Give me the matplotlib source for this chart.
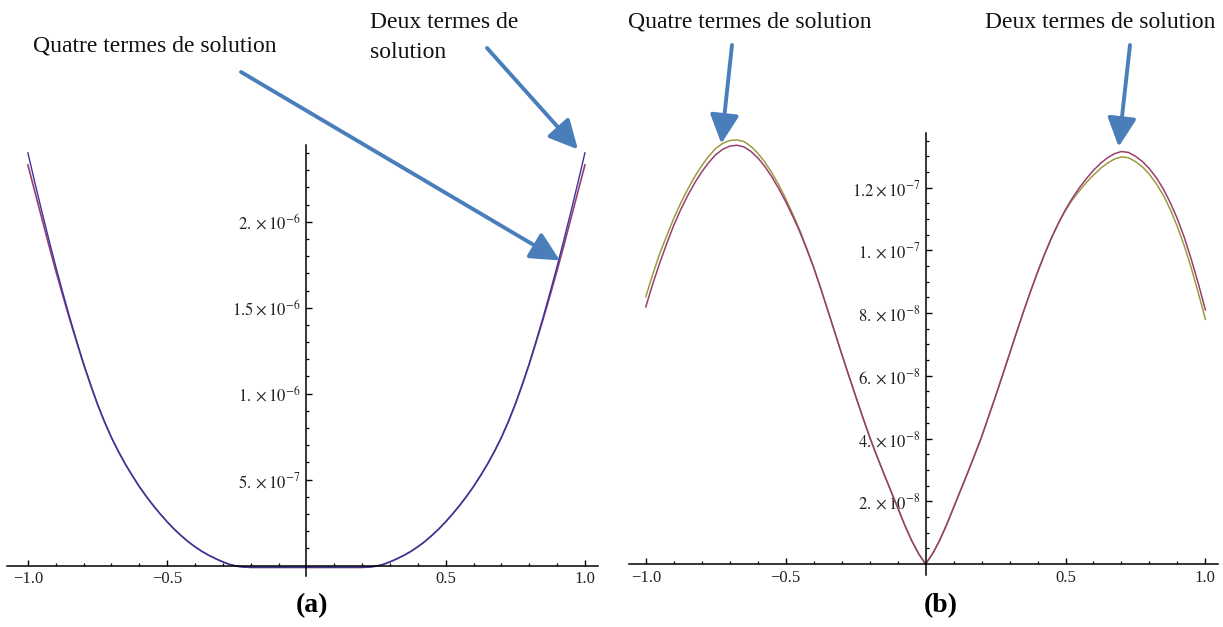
import numpy as np
import matplotlib
matplotlib.use("Agg")
import matplotlib.pyplot as plt

plt.rcParams['font.family'] = ['Liberation Serif', 'DejaVu Serif']
plt.rcParams['mathtext.fontset'] = 'stix'

# ---- panel (a): values in units of 1e-7, read at x = 0, 0.025, ..., 1 (curve is symmetric)
x_a = np.linspace(-1.0, 1.0, 81)
deux_a_right = [-0.10, -0.10, -0.10, -0.10, -0.10, -0.10, -0.10, -0.10, -0.10, -0.08,
                -0.03, 0.07, 0.22, 0.40, 0.60, 0.83, 1.10, 1.40, 1.75, 2.13,
                2.55, 3.01, 3.50, 4.03, 4.60, 5.23, 5.90, 6.64, 7.45, 8.38,
                9.40, 10.55, 11.75, 13.08, 14.45, 15.90, 17.40, 18.98, 20.60, 22.28,
                24.00]
quatre_a_right = [-0.10, -0.10, -0.10, -0.10, -0.10, -0.10, -0.10, -0.10, -0.10, -0.08,
                  -0.03, 0.07, 0.22, 0.40, 0.60, 0.83, 1.10, 1.40, 1.75, 2.13,
                  2.55, 3.01, 3.50, 4.03, 4.60, 5.23, 5.90, 6.64, 7.45, 8.36,
                  9.37, 10.50, 11.70, 13.00, 14.33, 15.72, 17.15, 18.65, 20.20, 21.75,
                  23.30]
deux_a = deux_a_right[::-1] + deux_a_right[1:]
quatre_a = quatre_a_right[::-1] + quatre_a_right[1:]

# ---- panel (b): values in units of 1e-8, read at x = -1, -0.975, ..., 1
x_b = np.linspace(-1.0, 1.0, 81)
purple_b = [8.20, 8.93, 9.60, 10.22, 10.80, 11.30, 11.75, 12.15, 12.50, 12.80,
            13.05, 13.22, 13.32, 13.35, 13.30, 13.16, 12.95, 12.68, 12.35, 11.97,
            11.55, 11.09, 10.60, 10.04, 9.45, 8.79, 8.10, 7.40, 6.70, 6.02,
            5.35, 4.69, 4.05, 3.46, 2.90, 2.35, 1.80, 1.25, 0.75, 0.33,
            0.00,
            0.33, 0.75, 1.25, 1.80, 2.35, 2.90, 3.47, 4.05, 4.70, 5.35,
            6.02, 6.70, 7.38, 8.05, 8.69, 9.30, 9.87, 10.40, 10.87, 11.30,
            11.67, 12.00, 12.29, 12.55, 12.77, 12.95, 13.08, 13.15, 13.12, 13.00,
            12.83, 12.60, 12.31, 11.95, 11.51, 11.00, 10.40, 9.70, 8.93, 8.10]
olive_b = [8.52, 9.24, 9.90, 10.47, 11.02, 11.51, 11.95, 12.35, 12.70, 13.00,
           13.25, 13.41, 13.50, 13.52, 13.47, 13.32, 13.10, 12.82, 12.48, 12.09,
           11.65, 11.16, 10.65, 10.07, 9.46, 8.79, 8.10, 7.40, 6.70, 6.02,
           5.35, 4.69, 4.05, 3.46, 2.90, 2.35, 1.80, 1.25, 0.75, 0.33,
           0.00,
           0.33, 0.75, 1.25, 1.80, 2.35, 2.90, 3.47, 4.05, 4.70, 5.35,
           6.02, 6.70, 7.38, 8.05, 8.69, 9.30, 9.87, 10.40, 10.87, 11.27,
           11.62, 11.90, 12.17, 12.40, 12.61, 12.78, 12.91, 12.98, 12.95, 12.83,
           12.66, 12.42, 12.12, 11.75, 11.29, 10.75, 10.13, 9.42, 8.63, 7.80]

xticks = [-1.0, -0.5, 0.5, 1.0]
xticklabels = ['\u22121.0', '\u22120.5', '0.5', '1.0']
yticks_a = [5e-7, 1e-6, 1.5e-6, 2e-6]
yticklabels_a = [r'$5.\times 10^{-7}$', r'$1.\times 10^{-6}$',
                 r'$1.5\times 10^{-6}$', r'$2.\times 10^{-6}$']
yticks_b = [2e-8, 4e-8, 6e-8, 8e-8, 1e-7, 1.2e-7]
yticklabels_b = [r'$2.\times 10^{-8}$', r'$4.\times 10^{-8}$', r'$6.\times 10^{-8}$',
                 r'$8.\times 10^{-8}$', r'$1.\times 10^{-7}$', r'$1.2\times 10^{-7}$']

BLUE = '#3535a0'
PURPLE = '#993d71'
OLIVE = '#9c9a40'
ARROW = '#4a7ebb'

W, H = 1223, 627
fig = plt.figure(figsize=(W / 100, H / 100), dpi=100, facecolor='white')


def px_axes(left, right, top, bottom):
    return fig.add_axes([left / W, 1 - bottom / H, (right - left) / W, (bottom - top) / H])


def style_axes(ax):
    for s in ['top', 'right']:
        ax.spines[s].set_visible(False)
    ax.spines['left'].set_position(('data', 0))
    ax.spines['bottom'].set_position(('data', 0))
    for s in ['left', 'bottom']:
        ax.spines[s].set_linewidth(1.1)
    ax.set_facecolor('none')
    ax.set_xticks(xticks)
    ax.set_xticklabels(xticklabels)
    ax.set_xticks([v / 10 for v in range(-9, 10) if v not in (-5, 0, 5)], minor=True)
    ax.tick_params(which='major', direction='in', length=4.5, width=1.0,
                   labelsize=12, labelcolor='#222222', pad=4)
    ax.tick_params(which='minor', direction='in', length=2.5, width=0.9)


# ---- panel (a)
ax1 = px_axes(7, 598, 145, 576)
ax1.plot(x_a, np.array(quatre_a) * 1e-7, color=PURPLE, lw=1.2)
ax1.plot(x_a, np.array(deux_a) * 1e-7, color=BLUE, lw=1.0)
ax1.set_xlim(-1.075, 1.047)
ax1.set_ylim(-0.6e-7, 24.46e-7)
style_axes(ax1)
ax1.set_yticks(yticks_a)
ax1.set_yticklabels(yticklabels_a)
ax1.set_yticks([v * 1e-7 for v in range(1, 25) if v % 5 != 0], minor=True)

# ---- panel (b)
ax2 = px_axes(629, 1218, 133, 575)
ax2.plot(x_b, np.array(olive_b) * 1e-8, color=OLIVE, lw=1.1)
ax2.plot(x_b, np.array(purple_b) * 1e-8, color=PURPLE, lw=1.1)
ax2.set_xlim(-1.06, 1.045)
ax2.set_ylim(-0.35e-8, 13.74e-8)
style_axes(ax2)
ax2.set_yticks(yticks_b)
ax2.set_yticklabels(yticklabels_b)
ax2.set_yticks([v * 0.5e-8 for v in range(1, 28) if v % 4 != 0], minor=True)


# ---- annotations
def label(x, y, s):
    fig.text(x / W, 1 - y / H, s, fontsize=17, ha='left', va='center', color='#111111')


def arrow(ax, tip, start):
    ax.annotate('', xy=tip, xycoords='data', xytext=(start[0], H - start[1]),
                textcoords='figure pixels', annotation_clip=False,
                arrowprops=dict(arrowstyle='-|>,head_length=0.8,head_width=0.4',
                                mutation_scale=22, lw=2.8, color=ARROW,
                                shrinkA=0, shrinkB=0))


label(33, 46, 'Quatre termes de solution')
label(370, 22, 'Deux termes de')
label(370, 53, 'solution')
label(628, 22, 'Quatre termes de solution')
label(985, 22, 'Deux termes de solution')

arrow(ax1, (0.91, 17.75e-7), (241, 72))
arrow(ax1, (0.975, 24.2e-7), (487, 48))
arrow(ax2, (-0.73, 13.4e-8), (732, 45))
arrow(ax2, (0.69, 13.3e-8), (1130, 45))

fig.text(312 / W, 1 - 606 / H, '(a)', fontsize=20, fontweight='bold',
         ha='center', va='center')
fig.text(941 / W, 1 - 606 / H, '(b)', fontsize=20, fontweight='bold',
         ha='center', va='center')

fig.savefig('out.png', dpi=100, facecolor='white')
